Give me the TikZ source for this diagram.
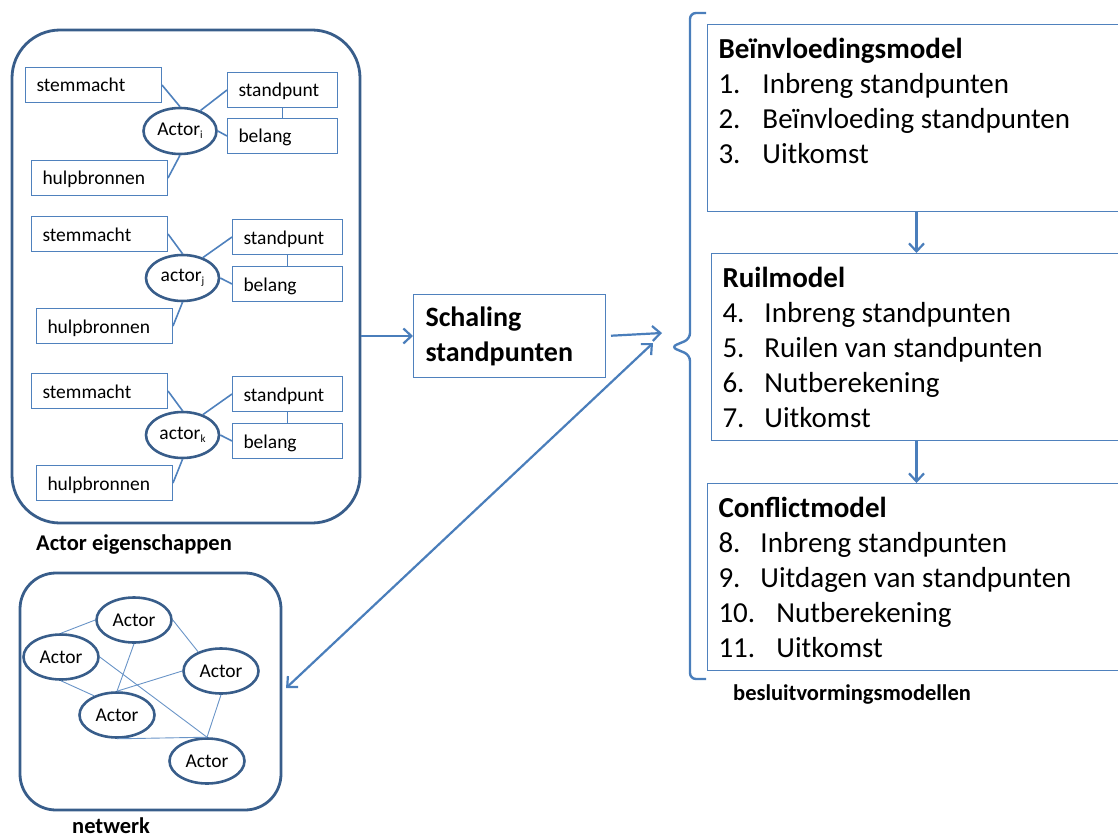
\documentclass[tikz,border=0pt]{standalone}
\usepackage{fontspec}
\setmainfont{Carlito}
\usepackage{xcolor}
\usepackage{tikz}
\usetikzlibrary{shapes.geometric,arrows.meta}
\definecolor{boxblue}{RGB}{79,129,189}
\definecolor{rimblue}{RGB}{56,93,138}
\definecolor{linkblue}{RGB}{74,126,187}
\newcommand{\actsub}[1]{\raisebox{-3pt}{\fontsize{11}{11}\selectfont #1}}

\begin{document}
\begin{tikzpicture}[x=1pt,y=-1pt,
  attr/.style={draw=boxblue, line width=1pt, anchor=north west, inner xsep=11pt, inner ysep=0pt,
    minimum height=35pt, text height=18pt, text depth=4pt, align=left, font=\fontsize{19.5}{23}\selectfont},
  wideattr/.style={attr, text width=114pt},
  narrowattr/.style={attr, text width=88pt},
  actorell/.style={ellipse, draw=rimblue, line width=2.6pt, minimum width=73pt, minimum height=46pt,
    inner sep=0pt, font=\fontsize{19.5}{23}\selectfont},
  link/.style={draw=boxblue, line width=1.6pt},
  netlink/.style={draw=boxblue!85, line width=0.9pt},
  arr/.style={draw=linkblue, line width=2.2pt, -{Straight Barb[length=8pt,width=15pt]}},
  container/.style={draw=rimblue, line width=2.8pt, rounded corners=48pt},
  modelbox/.style={draw=boxblue, line width=1pt, anchor=north west, inner xsep=11pt, inner ysep=11pt,
    font=\fontsize{29}{35}\selectfont},
  caption/.style={anchor=base west, inner sep=0pt, font=\fontsize{22.5}{26}\selectfont\bfseries}]
\useasboundingbox (0,0) rectangle (1118,837);

% actor eigenschappen
\node[container, minimum width=348pt, minimum height=493pt] (eigen) at (186,276.5) {};
\node[caption] (lbleigen) at (36,550) {Actor eigenschappen};

\node[wideattr] (stemi) at (25,67) {stemmacht};
\node[narrowattr] (standi) at (227,72) {standpunt};
\node[narrowattr] (belangi) at (227,118) {belang};
\node[wideattr] (hulpi) at (31,160) {hulpbronnen};
\node[actorell] (actori) at (180,131) {Actor\actsub{i}};
\draw[link] (stemi.east) -- (actori.north);
\draw[link] (standi.west) -- (actori.45);
\draw[link] (belangi.west) -- (actori.east);
\draw[link] (hulpi.east) -- (actori.south);
\draw[link] (standi.south) -- (belangi.north);

\node[wideattr] (stemj) at (31,216) {stemmacht};
\node[narrowattr] (standj) at (232,219) {standpunt};
\node[narrowattr] (belangj) at (232,266) {belang};
\node[wideattr] (hulpj) at (36,308) {hulpbronnen};
\node[actorell] (actorj) at (182.5,278) {actor\actsub{j}};
\draw[link] (stemj.east) -- (actorj.north);
\draw[link] (standj.west) -- (actorj.45);
\draw[link] (belangj.west) -- (actorj.east);
\draw[link] (hulpj.east) -- (actorj.south);
\draw[link] (standj.south) -- (belangj.north);

\node[wideattr] (stemk) at (31,373) {stemmacht};
\node[narrowattr] (standk) at (232,376) {standpunt};
\node[narrowattr] (belangk) at (232,423) {belang};
\node[wideattr] (hulpk) at (36,465) {hulpbronnen};
\node[actorell] (actork) at (182.5,435) {actor\actsub{k}};
\draw[link] (stemk.east) -- (actork.north);
\draw[link] (standk.west) -- (actork.45);
\draw[link] (belangk.west) -- (actork.east);
\draw[link] (hulpk.east) -- (actork.south);
\draw[link] (standk.south) -- (belangk.north);

% netwerk
\node[container, rounded corners=36pt, minimum width=261pt, minimum height=237pt] (netw) at (150.5,691.5) {};
\node[caption] (lblnetw) at (72,833) {netwerk};
\node[actorell, minimum width=75pt, minimum height=45pt] (net1) at (134,620) {Actor};
\node[actorell, minimum width=75pt, minimum height=45pt] (net2) at (61,657) {Actor};
\node[actorell, minimum width=75pt, minimum height=45pt] (net3) at (221,671) {Actor};
\node[actorell, minimum width=75pt, minimum height=45pt] (net4) at (117,715) {Actor};
\node[actorell, minimum width=75pt, minimum height=45pt] (net5) at (207,761) {Actor};
\draw[netlink] (net2.north) -- (net1.west);
\draw[netlink] (net1.east) -- (net3.140);
\draw[netlink] (net1.south) -- (net4.north);
\draw[netlink] (net2.south) -- (net4.140);
\draw[netlink] (net2.east) -- (net5.north);
\draw[netlink] (net3.west) -- (net4.north);
\draw[netlink] (net3.south) -- (net5.north);
\draw[netlink] (net4.south) -- (net5.north);

% schaling
\node[draw=boxblue, line width=1pt, anchor=north west, inner xsep=12pt, text width=168pt, minimum height=83pt,
  align=left, font=\fontsize{28}{35}\selectfont\bfseries] (schal) at (413,294) {Schaling\\standpunten};
\coordinate (join) at (662,333);
\coordinate (back) at (653,343);
\draw[arr] (eigen.east |- schal.west) -- (schal.west);
\draw[arr, shorten <=5pt] (schal.east) -- (join);
\draw[arr, {Straight Barb[length=8pt,width=15pt]}-{Straight Barb[length=8pt,width=15pt]}, shorten <=5pt]
  (netw.east) -- (back);

% besluitvormingsmodellen
\draw[draw=linkblue, line width=2.4pt, rounded corners=6pt] (706,13) -| (690,339) -- (671,347) -- (690,355) |- (706,679);
\node[caption] (lblmodel) at (733,700) {besluitvormingsmodellen};

\node[modelbox] (infl) at (707,24) {\parbox[t][165pt][t]{396pt}{\rule{0pt}{23pt}\textbf{Beïnvloedingsmodel}\\
  \makebox[44pt][l]{1.}Inbreng standpunten\\
  \makebox[44pt][l]{2.}Beïnvloeding standpunten\\
  \makebox[44pt][l]{3.}Uitkomst}};
\node[modelbox] (ruil) at (711,253) {\parbox[t][165pt][t]{396pt}{\rule{0pt}{23pt}\textbf{Ruilmodel}\\
  \makebox[42pt][l]{4.}Inbreng standpunten\\
  \makebox[42pt][l]{5.}Ruilen van standpunten\\
  \makebox[42pt][l]{6.}Nutberekening\\
  \makebox[42pt][l]{7.}Uitkomst}};
\node[modelbox] (confl) at (707,483) {\parbox[t][165pt][t]{396pt}{\rule{0pt}{23pt}\textbf{Conflictmodel}\\
  \makebox[42pt][l]{8.}Inbreng standpunten\\
  \makebox[42pt][l]{9.}Uitdagen van standpunten\\
  \makebox[58pt][l]{10.}Nutberekening\\
  \makebox[58pt][l]{11.}Uitkomst}};
\draw[arr] (infl.south) -- (infl.south |- ruil.north);
\draw[arr] (ruil.south -| infl.south) -- (confl.north -| infl.south);
\end{tikzpicture}
\end{document}
